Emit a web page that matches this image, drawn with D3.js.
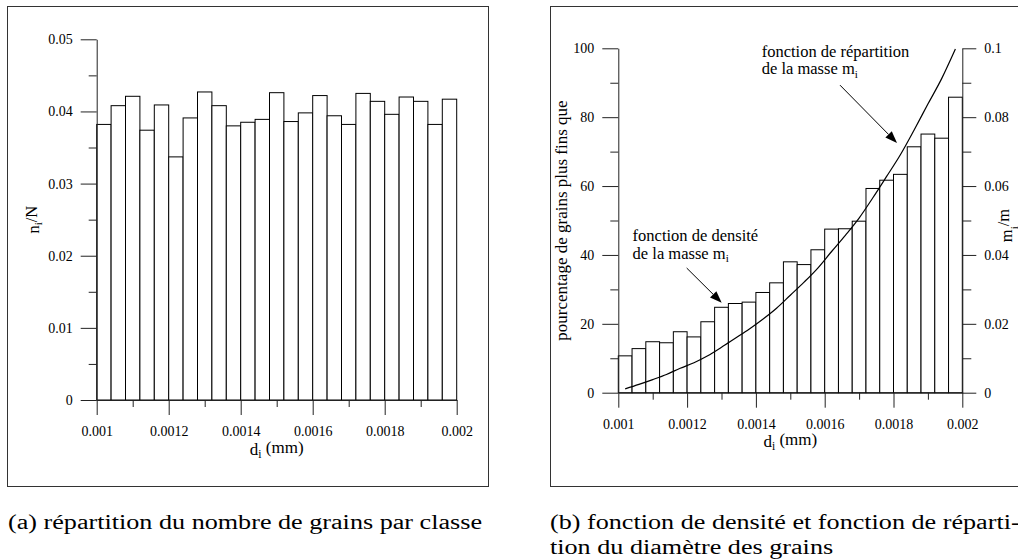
<!DOCTYPE html>
<html><head><meta charset="utf-8">
<script src="https://cdn.jsdelivr.net/npm/d3@7"></script>
<style>
body{margin:0;background:#fff}
svg{display:block}
</style>
</head><body>
<svg id="c" width="1018" height="560"></svg>
<script>
// ---------- data ----------
const binStart = [0.00100,0.00104,0.00108,0.00112,0.00116,0.00120,0.00124,0.00128,0.00132,0.00136,
                  0.00140,0.00144,0.00148,0.00152,0.00156,0.00160,0.00164,0.00168,0.00172,0.00176,
                  0.00180,0.00184,0.00188,0.00192,0.00196];
const binWidth = 0.00004;
// (a) n_i/N
const countFraction = [0.0382,0.0408,0.0421,0.0374,0.0409,0.0337,0.0391,0.0427,0.0408,0.0380,
                       0.0385,0.0389,0.0426,0.0386,0.0398,0.0422,0.0394,0.0382,0.0425,0.0414,
                       0.0396,0.0420,0.0414,0.0382,0.0417];
// (b) m_i/m (density, right axis)
const massFraction = [0.0107,0.0128,0.0148,0.0145,0.0177,0.0162,0.0206,0.0248,0.0259,0.0263,
                      0.0291,0.0319,0.0380,0.0372,0.0415,0.0475,0.0476,0.0498,0.0593,0.0617,
                      0.0634,0.0714,0.0751,0.0739,0.0858];
// (b) pourcentage de grains plus fins que (cumulative, left axis), at bin centres
const cumulativePct = [1.1,2.4,3.8,5.3,7.1,8.7,10.7,13.2,15.8,18.4,
                       21.3,24.5,28.3,32.1,36.2,41.0,45.7,50.7,56.6,62.8,
                       69.1,76.3,83.8,91.2,99.8];
const xTicks = [0.001,0.0012,0.0014,0.0016,0.0018,0.002];
const xTickLabels = ["0.001","0.0012","0.0014","0.0016","0.0018","0.002"];
const xMinor = [0.0011,0.0013,0.0015,0.0017,0.0019];
const yTicksA = [0,0.01,0.02,0.03,0.04,0.05];
const yTickLabelsA = ["0","0.01","0.02","0.03","0.04","0.05"];
const yMinorA = [0.005,0.015,0.025,0.035,0.045];
const yTicksBL = [0,20,40,60,80,100];
const yTickLabelsBL = ["0","20","40","60","80","100"];
const yMinorBL = [10,30,50,70,90];
const yTicksBR = [0,0.02,0.04,0.06,0.08,0.1];
const yTickLabelsBR = ["0","0.02","0.04","0.06","0.08","0.1"];
const yMinorBR = [0.01,0.03,0.05,0.07,0.09];

// ---------- drawing ----------
const FONT = "'Liberation Serif','Times New Roman',serif";
const svg = d3.select("#c");
svg.append("rect").attr("width",1018).attr("height",560).attr("fill","#fff");
const AX = "#222", FS = 14, TS = 17;

function styleAxis(g){
  g.attr("font-family",null).attr("font-size",null);
  g.selectAll("path,line").attr("stroke",AX).attr("stroke-width",1);
  g.selectAll("text").style("font-size",FS+"px").style("font-family",FONT).attr("fill","#000");
}
function drawAxis(parent, axisFn, scale, ticks, labels, minor, major, minorLen, pad, transform){
  const g = parent.append("g").attr("transform",transform);
  g.call(axisFn(scale).tickValues(ticks).tickFormat((d,i)=>labels[i]).tickSize(major).tickSizeOuter(0).tickPadding(pad));
  styleAxis(g);
  const gm = parent.append("g").attr("transform",transform);
  gm.call(axisFn(scale).tickValues(minor).tickFormat("").tickSize(minorLen).tickSizeOuter(0));
  styleAxis(gm);
  gm.select("path").remove();
  return g;
}
function txt(parent, size){
  return parent.append("text").style("font-family",FONT).style("font-size",size+"px").attr("fill","#000");
}
function sub(textSel, main, s, dy){
  textSel.append("tspan").text(main);
  textSel.append("tspan").text(s).style("font-size","0.68em").attr("dy",(dy||0.3)+"em");
}

// ===== (a) =====
const A = svg.append("g");
A.append("rect").attr("x",7.5).attr("y",6.5).attr("width",481).attr("height",480)
  .attr("fill","none").attr("stroke","#333").attr("stroke-width",1);
const xa = d3.scaleLinear().domain([0.001,0.002]).range([96.7,456.7]);
const ya = d3.scaleLinear().domain([0,0.05]).range([400,39.3]);
A.append("g").selectAll("rect").data(binStart).join("rect")
  .attr("x",d=>xa(d)).attr("width",d=>xa(d+binWidth)-xa(d))
  .attr("y",(d,i)=>ya(countFraction[i])).attr("height",(d,i)=>ya(0)-ya(countFraction[i]))
  .attr("fill","#fff").attr("stroke","#000").attr("stroke-width",1);
drawAxis(A, d3.axisLeft, ya, yTicksA, yTickLabelsA, yMinorA, 16, 8, 8, `translate(${xa(0.001)},0)`);
drawAxis(A, d3.axisBottom, xa, xTicks, xTickLabels, xMinor, 15, 7, 11, `translate(0,${ya(0)})`);
const tAy = txt(A,16.5).attr("text-anchor","middle")
  .attr("transform",`translate(39,${(ya(0)+ya(0.05))/2}) rotate(-90)`);
sub(tAy,"n","i"); tAy.append("tspan").text("/N").attr("dy","-0.3em");
const tAx = txt(A,TS).attr("text-anchor","middle")
  .attr("x",(xa(0.001)+xa(0.002))/2).attr("y",455);
sub(tAx,"d","i"); tAx.append("tspan").text(" (mm)").attr("dy","-0.3em");

// ===== (b) =====
const B = svg.append("g");
B.append("rect").attr("x",550.5).attr("y",6.5).attr("width",480).attr("height",480)
  .attr("fill","none").attr("stroke","#333").attr("stroke-width",1);
const xb = d3.scaleLinear().domain([0.001,0.002]).range([618.3,962.3]);
const ybL = d3.scaleLinear().domain([0,100]).range([392.7,48.3]);
const ybR = d3.scaleLinear().domain([0,0.1]).range([392.7,48.3]);
B.append("g").selectAll("rect").data(binStart).join("rect")
  .attr("x",d=>xb(d)).attr("width",d=>xb(d+binWidth)-xb(d))
  .attr("y",(d,i)=>ybR(massFraction[i])).attr("height",(d,i)=>ybR(0)-ybR(massFraction[i]))
  .attr("fill","#fff").attr("stroke","#000").attr("stroke-width",1);
drawAxis(B, d3.axisLeft, ybL, yTicksBL, yTickLabelsBL, yMinorBL, 16, 8, 8, `translate(${xb(0.001)},0)`);
drawAxis(B, d3.axisRight, ybR, yTicksBR, yTickLabelsBR, yMinorBR, 14, 9, 8, `translate(${xb(0.002)},0)`);
drawAxis(B, d3.axisBottom, xb, xTicks, xTickLabels, xMinor, 15, 7, 11, `translate(0,${ybL(0)})`);
// cumulative curve
const line = d3.line().x((d,i)=>xb(binStart[i]+binWidth/2)).y(d=>ybL(d)).curve(d3.curveMonotoneX);
B.append("path").datum(cumulativePct).attr("d",line).attr("fill","none").attr("stroke","#000").attr("stroke-width",1.2);
// titles
txt(B,TS).attr("text-anchor","middle")
  .attr("transform",`translate(567,${(ybL(0)+ybL(100))/2}) rotate(-90)`)
  .text("pourcentage de grains plus fins que");
const tBx = txt(B,TS).attr("text-anchor","middle")
  .attr("x",(xb(0.001)+xb(0.002))/2).attr("y",447);
sub(tBx,"d","i"); tBx.append("tspan").text(" (mm)").attr("dy","-0.3em");
const tBr = txt(B,16.5).attr("text-anchor","middle")
  .attr("transform",`translate(1012,${ybR(0.05)+5}) rotate(-90)`);
sub(tBr,"m","i",0.55); tBr.append("tspan").text("/m").attr("dy","-0.55em");

// annotations
function annot(lines, tx, ty, from, to){
  const t = txt(B,16.5).attr("x",xb(tx)).attr("y",ybL(ty));
  t.append("tspan").text(lines[0]);
  const t2 = txt(B,16.5).attr("x",xb(tx)).attr("y",ybL(ty)+17.5);
  sub(t2, lines[1], "i");
  const x1=xb(from[0]), y1=ybL(from[1]), x2=xb(to[0]), y2=ybL(to[1]);
  const ang = Math.atan2(y2-y1,x2-x1), L=12, W=4.5;
  const bx = x2-L*Math.cos(ang), by = y2-L*Math.sin(ang);
  B.append("line").attr("x1",x1).attr("y1",y1).attr("x2",bx).attr("y2",by).attr("stroke","#000").attr("stroke-width",1);
  B.append("path").attr("d",`M${x2},${y2}L${bx+W*Math.sin(ang)},${by-W*Math.cos(ang)}L${bx-W*Math.sin(ang)},${by+W*Math.cos(ang)}Z`).attr("fill","#000");
}
annot(["fonction de répartition","de la masse m"], 0.0014169, 97.5, [0.0016445,89.3], [0.0018102,72.5]);
annot(["fonction de densité","de la masse m"], 0.0010416, 44.0, [0.0011988,36.2], [0.0013006,26.1]);

// captions: wide (Computer-Modern-like) proportions, same horizontal scale for every line
const capA = txt(svg,20).attr("x",8).attr("y",529).text("(a) répartition du nombre de grains par classe");
const k = 474 / capA.node().getComputedTextLength();
capA.attr("textLength",474).attr("lengthAdjust","spacingAndGlyphs");
function caption(str, x, y){
  const t = txt(svg,20).attr("x",x).attr("y",y).text(str);
  t.attr("textLength",t.node().getComputedTextLength()*k).attr("lengthAdjust","spacingAndGlyphs");
}
caption("(b) fonction de densité et fonction de réparti-", 550, 529);
caption("tion du diamètre des grains", 550, 554);
</script>
</body></html>
